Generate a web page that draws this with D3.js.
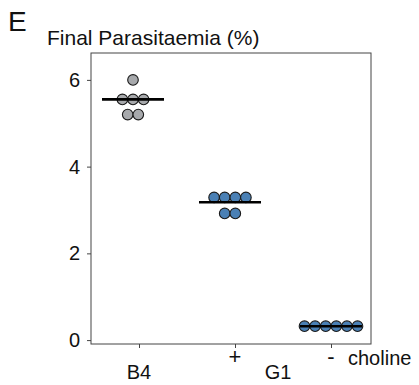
<!DOCTYPE html>
<html>
<head>
<meta charset="utf-8">
<script src="https://cdn.jsdelivr.net/npm/d3@7"></script>
<style>
  body { margin: 0; background: #fff; }
  svg text { font-family: "Liberation Sans", Arial, sans-serif; fill: #111; }
</style>
</head>
<body>
<div id="canvas"><svg width="419" height="385"></svg></div>
<script>
// data
const groups = ["B4", "G1+", "G1-"];
const cholineLabels = ["", "+", "-"];
const b4Values = [6.0, 5.55, 5.55, 5.55, 5.2, 5.2];
const g1PlusValues = [3.29, 3.29, 3.29, 3.29, 2.92, 2.92];
const g1MinusValues = [0.32, 0.32, 0.32, 0.32, 0.32, 0.32];
const groupLines = [5.55, 3.18, 0.32];
const yTicks = [0, 2, 4, 6];
const groupColors = ["#a7a9ac", "#4a80b5", "#4a80b5"];

const svg = d3.select("#canvas").select("svg");

const frame = { left: 91, right: 371, top: 53, bottom: 344 };
const r = 5.3;

const y = d3.scaleLinear().domain([-0.09, 6.62]).range([frame.bottom, frame.top]);
const x = d3.scalePoint().domain(groups).range([139, 331]);
// the dot clusters sit a bit left of the ticks in the original
const clusterShift = [-6, -5, 0];

// frame
svg.append("rect")
    .attr("x", frame.left).attr("y", frame.top)
    .attr("width", frame.right - frame.left)
    .attr("height", frame.bottom - frame.top)
    .attr("fill", "none")
    .attr("stroke", "#444")
    .attr("stroke-width", 1);

// y axis
const yAxis = svg.append("g")
    .attr("transform", `translate(${frame.left},0)`)
    .call(d3.axisLeft(y).tickValues(yTicks).tickFormat(d3.format("d")).tickSize(4).tickPadding(7));
yAxis.select(".domain").remove();
yAxis.selectAll("line").attr("stroke", "#444");
yAxis.selectAll("text").style("font-size", "20px").attr("fill", "#111");

// x axis ticks only
const xAxis = svg.append("g")
    .attr("transform", `translate(0,${frame.bottom})`)
    .call(d3.axisBottom(x).tickSize(4).tickFormat(""));
xAxis.select(".domain").remove();
xAxis.selectAll("line").attr("stroke", "#444");

// dots, stacked side by side when values coincide
const allValues = [b4Values, g1PlusValues, g1MinusValues];
allValues.forEach((vals, gi) => {
    const rows = d3.groups(vals, v => v);
    const pts = [];
    rows.forEach(([v, members]) => {
        members.forEach((m, i) => {
            pts.push({ v: v, dx: (i - (members.length - 1) / 2) * 2 * r });
        });
    });
    const cx = x(groups[gi]) + clusterShift[gi];
    svg.append("g")
        .selectAll("circle")
        .data(pts)
        .join("circle")
        .attr("cx", d => cx + d.dx)
        .attr("cy", d => y(d.v))
        .attr("r", r)
        .attr("fill", groupColors[gi])
        .attr("stroke", "#1a1a1a")
        .attr("stroke-width", 1.1);

    svg.append("line")
        .attr("x1", cx - 31).attr("x2", cx + 31)
        .attr("y1", y(groupLines[gi])).attr("y2", y(groupLines[gi]))
        .attr("stroke", "#000")
        .attr("stroke-width", 2.6);
});

// labels
svg.append("text").attr("x", 8).attr("y", 31)
    .style("font-size", "28px").text("E");
svg.append("text").attr("x", 47).attr("y", 45)
    .style("font-size", "21px").text("Final Parasitaemia (%)");

svg.selectAll("text.chol")
    .data(groups)
    .join("text")
    .attr("class", "chol")
    .attr("x", d => x(d))
    .attr("y", 364)
    .attr("text-anchor", "middle")
    .style("font-size", "22px")
    .text((d, i) => cholineLabels[i]);

svg.append("text").attr("x", 348).attr("y", 365)
    .style("font-size", "20px").text("choline");
svg.append("text").attr("x", x("B4")).attr("y", 379)
    .attr("text-anchor", "middle").style("font-size", "20px").text("B4");
svg.append("text").attr("x", 278).attr("y", 379)
    .attr("text-anchor", "middle").style("font-size", "20px").text("G1");
</script>
</body>
</html>
